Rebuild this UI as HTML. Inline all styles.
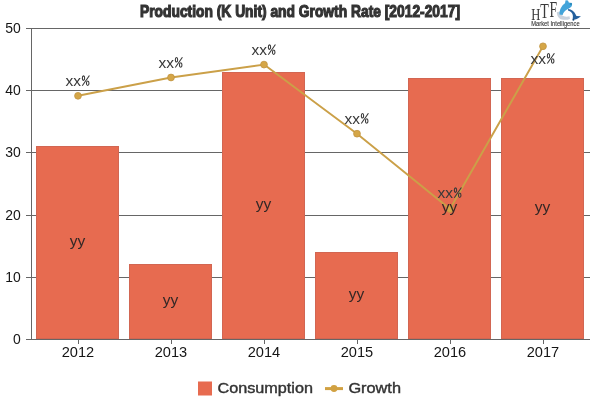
<!DOCTYPE html>
<html><head><meta charset="utf-8">
<style>
html,body{margin:0;padding:0;background:#fff;}
body{width:600px;height:400px;overflow:hidden;position:relative;font-family:"Liberation Sans",sans-serif;}
svg{position:absolute;left:0;top:0;will-change:transform;}
</style></head>
<body>
<svg width="600" height="400" viewBox="0 0 600 400" font-family="Liberation Sans, sans-serif">
  <!-- gridlines -->
  <g stroke="#666" stroke-width="1" fill="none">
    <path d="M26 28.5H590M26 90.5H590M26 152.5H590M26 215.5H590M26 277.5H590M26 339.5H590"/>
    <path d="M31.5 28V340"/>
    <path d="M78.5 339V344M171.5 339V344M264.5 339V344M357.5 339V344M450.5 339V344M543.5 339V344"/>
  </g>
  <!-- bars -->
  <g fill="#E76B50" stroke="#D26652" stroke-width="1">
    <rect x="36.5" y="146.5" width="82" height="192"/>
    <rect x="129.5" y="264.5" width="82" height="74"/>
    <rect x="222.5" y="72.5" width="82" height="266"/>
    <rect x="315.5" y="252.5" width="82" height="86"/>
    <rect x="408.5" y="78.5" width="82" height="260"/>
    <rect x="501.5" y="78.5" width="82" height="260"/>
  </g>
  <path d="M26 339.5H590" stroke="#666" stroke-width="1"/>
  <!-- line -->
  <polyline fill="none" stroke="#CBA048" stroke-width="1.9" stroke-linejoin="round" points="78,95.8 171,77.5 264,64.6 357,133.7 450,209 543,46.3"/>
  <g fill="#D5A647" stroke="#C29443" stroke-width="0.8">
    <circle cx="78" cy="95.8" r="3.4"/>
    <circle cx="171" cy="77.5" r="3.4"/>
    <circle cx="264" cy="64.6" r="3.4"/>
    <circle cx="357" cy="133.7" r="3.4"/>
    <circle cx="450" cy="209" r="3.4"/>
    <circle cx="543" cy="46.3" r="3.4"/>
  </g>
  <!-- y labels -->
  <g font-size="15.5" fill="#151515" text-anchor="end">
    <text transform="matrix(0.9,0,0,1,20.8,33)">50</text>
    <text transform="matrix(0.9,0,0,1,20.8,95)">40</text>
    <text transform="matrix(0.9,0,0,1,20.8,157)">30</text>
    <text transform="matrix(0.9,0,0,1,20.8,220)">20</text>
    <text transform="matrix(0.9,0,0,1,20.8,282)">10</text>
    <text transform="matrix(0.9,0,0,1,20.8,344)">0</text>
  </g>
  <!-- x labels -->
  <g font-size="15.5" fill="#151515" text-anchor="middle">
    <text x="78" y="356.5" textLength="32.5" lengthAdjust="spacingAndGlyphs">2012</text>
    <text x="171" y="356.5" textLength="32.5" lengthAdjust="spacingAndGlyphs">2013</text>
    <text x="264" y="356.5" textLength="32.5" lengthAdjust="spacingAndGlyphs">2014</text>
    <text x="357" y="356.5" textLength="32.5" lengthAdjust="spacingAndGlyphs">2015</text>
    <text x="450" y="356.5" textLength="32.5" lengthAdjust="spacingAndGlyphs">2016</text>
    <text x="543" y="356.5" textLength="32.5" lengthAdjust="spacingAndGlyphs">2017</text>
  </g>
  <!-- yy labels -->
  <g font-size="15.5" fill="#352826" text-anchor="middle">
    <text x="77.4" y="245.8">yy</text>
    <text x="170.4" y="304.7">yy</text>
    <text x="263.4" y="208.7">yy</text>
    <text x="356.4" y="298.7">yy</text>
    <text x="449.4" y="211.7">yy</text>
    <text x="542.4" y="211.8">yy</text>
  </g>
  <!-- xx% labels -->
  <defs>
    <g id="pct" fill="none" stroke="#3a3a3a" stroke-width="1.1">
      <ellipse cx="5.5" cy="-7.9" rx="1.15" ry="2.25"/>
      <ellipse cx="9.7" cy="-2.75" rx="1.25" ry="2.25"/>
      <path d="M11.4 -10.5L4.3 -0.2"/>
    </g>
  </defs>
  <g font-size="15" fill="#3a3a3a">
    <text x="65.6" y="86" textLength="15.5" lengthAdjust="spacingAndGlyphs">xx</text><use href="#pct" transform="translate(78,86)"/>
    <text x="158.6" y="67.7" textLength="15.5" lengthAdjust="spacingAndGlyphs">xx</text><use href="#pct" transform="translate(171,67.7)"/>
    <text x="251.6" y="55" textLength="15.5" lengthAdjust="spacingAndGlyphs">xx</text><use href="#pct" transform="translate(264,55)"/>
    <text x="344.6" y="123.7" textLength="15.5" lengthAdjust="spacingAndGlyphs">xx</text><use href="#pct" transform="translate(357,123.7)"/>
    <text x="437.6" y="198" textLength="15.5" lengthAdjust="spacingAndGlyphs">xx</text><use href="#pct" transform="translate(450,198)"/>
    <text x="530.6" y="63.7" textLength="15.5" lengthAdjust="spacingAndGlyphs">xx</text><use href="#pct" transform="translate(543,63.7)"/>
  </g>
  <!-- title -->
  <text x="140" y="17" font-size="16.6" font-weight="bold" fill="#333" stroke="#333" stroke-width="1.15" textLength="320" lengthAdjust="spacingAndGlyphs">Production (K Unit) and Growth Rate [2012-2017]</text>
  <!-- legend -->
  <rect x="198" y="381.5" width="14" height="14" fill="#E76B50"/>
  <text x="217.5" y="393.3" font-size="14.5" fill="#333" stroke="#333" stroke-width="0.4" textLength="95.5" lengthAdjust="spacingAndGlyphs">Consumption</text>
  <path d="M325 388.6H343" stroke="#D1A142" stroke-width="3"/>
  <circle cx="334" cy="388.5" r="3.4" fill="#D1A142"/>
  <text x="348.4" y="393.3" font-size="14.5" fill="#333" stroke="#333" stroke-width="0.4" textLength="52.6" lengthAdjust="spacingAndGlyphs">Growth</text>
  <!-- logo -->
  <g font-family="Liberation Serif, serif" fill="#3a3a3a">
    <text transform="matrix(0.72,0,0,1,531.3,19.7)" font-size="17.5">H</text>
    <text transform="matrix(0.7,0,0,1,540.2,18.4)" font-size="20">T</text>
    <text transform="matrix(0.6,0,0,1,549.6,16.9)" font-size="22.8">F</text>
  </g>
  <text x="531.3" y="26.4" font-size="6.5" fill="#333" stroke="#555" stroke-width="0.15" textLength="48.3" lengthAdjust="spacingAndGlyphs">Market Intelligence</text>
  <g>
    <path d="M556.8 12.2 C557 16.5 559.5 19.5 563.5 19.8 C566 20 568.5 19.7 570 19 L569.5 16.3 C567.5 16.8 565 16.8 563.2 16 C561.5 15 560.5 13.5 560 11.5 Z" fill="#C8D2DD"/>
    <path d="M559.5 14.5 C559.3 10 561.5 5.5 565 3.2 L565.6 0.2 L568 0.4 L568.8 2.4 C570.5 2.5 572.2 3.8 572 5.6 C571.5 7.5 569 8.4 567 9.6 C565 10.8 563.3 12.5 562.6 15 Z" fill="#42A4DA"/>
    <circle cx="570.9" cy="3.9" r="1.2" fill="#2C8DBE"/>
    <path d="M568 9 C571.5 9.3 574.5 11.5 575.8 14.8 L576.5 16 L581 16.2 L578.2 18.2 C576.8 19.2 575 19.6 573.3 19.5 L572.6 18.6 C573.2 17 573 15 572 13.3 C571 11.8 569.6 11 568.2 10.8 Z" fill="#25609D"/>
    <circle cx="573.4" cy="19.7" r="1" fill="#1B4878"/>
  </g>
</svg>
</body></html>
